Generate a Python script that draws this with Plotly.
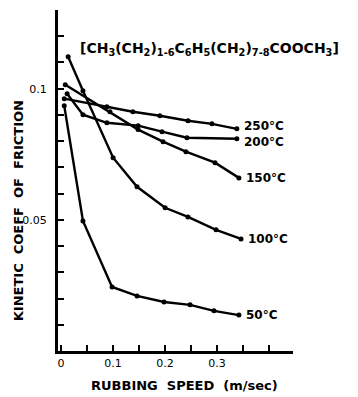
import plotly.graph_objects as go

# Data
series_names = ["250°C", "200°C", "150°C", "100°C", "50°C"]

speed_250 = [0.006, 0.088, 0.138, 0.19, 0.244, 0.29, 0.338]
coef_250 = [0.0962, 0.0931, 0.0912, 0.0897, 0.0878, 0.0866, 0.0847]

speed_200 = [0.0115, 0.042, 0.088, 0.148, 0.194, 0.242, 0.338]
coef_200 = [0.0981, 0.0901, 0.0870, 0.0859, 0.0836, 0.0813, 0.0809]

speed_150 = [0.008, 0.094, 0.148, 0.196, 0.240, 0.296, 0.342]
coef_150 = [0.1015, 0.0912, 0.0844, 0.0798, 0.0760, 0.0718, 0.0660]

speed_100 = [0.0135, 0.042, 0.10, 0.146, 0.20, 0.244, 0.298, 0.346]
coef_100 = [0.1122, 0.0992, 0.0737, 0.0626, 0.0546, 0.0511, 0.0462, 0.0427]

speed_50 = [0.006, 0.042, 0.098, 0.146, 0.198, 0.248, 0.294, 0.342]
coef_50 = [0.0935, 0.0496, 0.0244, 0.0210, 0.0187, 0.0176, 0.0153, 0.0137]

x_tickvals = [0, 0.05, 0.1, 0.15, 0.2, 0.25, 0.3, 0.35, 0.4]
x_ticktext = ["0", "", "0.1", "", "0.2", "", "0.3", "", ""]
y_tickvals = [0.01 * i for i in range(13)]
y_ticktext = ["" for _ in range(13)]
y_ticktext[5] = "0.05"
y_ticktext[10] = "0.1"

title_text = "[CH<sub>3</sub>(CH<sub>2</sub>)<sub>1-6</sub>C<sub>6</sub>H<sub>5</sub>(CH<sub>2</sub>)<sub>7-8</sub>COOCH<sub>3</sub>]"
x_title = "RUBBING  SPEED  (m/sec)"
y_title = "KINETIC  COEFF  OF  FRICTION"

all_speeds = [speed_250, speed_200, speed_150, speed_100, speed_50]
all_coefs = [coef_250, coef_200, coef_150, coef_100, coef_50]
label_yshift = [3, -3, 0, 0, 0]

FONT = "DejaVu Sans"
fig = go.Figure()
for name, xs, ys, ysh in zip(series_names, all_speeds, all_coefs, label_yshift):
    fig.add_trace(go.Scatter(
        x=xs, y=ys, mode="lines+markers", name=name,
        line=dict(color="black", width=2.4),
        marker=dict(color="black", size=5),
        cliponaxis=False, showlegend=False,
    ))
    fig.add_annotation(
        x=xs[-1], y=ys[-1], text="<b>" + name + "</b>", showarrow=False,
        xanchor="left", yanchor="middle", xshift=5, yshift=ysh,
        font=dict(family=FONT, size=12, color="black"),
    )

fig.add_annotation(
    x=0.033, y=0.115, text="<b>" + title_text + "</b>", showarrow=False,
    xanchor="left", yanchor="middle",
    font=dict(family=FONT, size=14, color="black"),
)
fig.add_annotation(
    xref="paper", yref="paper", x=0.54, y=-0.1, text="<b>" + x_title + "</b>",
    showarrow=False, xanchor="center", yanchor="middle",
    font=dict(family=FONT, size=13, color="black"),
)
fig.add_annotation(
    xref="paper", yref="paper", x=-0.17, y=0.41, text="<b>" + y_title + "</b>",
    showarrow=False, textangle=-90, xanchor="center", yanchor="middle",
    font=dict(family=FONT, size=13, color="black"),
)

# page body adds an 8 px margin, so the figure is sized/offset to compensate
fig.update_layout(
    width=350, height=389,
    margin=dict(l=50, r=65, t=2, b=46),
    paper_bgcolor="white", plot_bgcolor="white",
    font=dict(family=FONT, color="black"),
)
fig.update_xaxes(
    range=[-0.006, 0.446], showgrid=False, zeroline=False,
    showline=True, linecolor="black", linewidth=3,
    tickvals=x_tickvals, ticktext=x_ticktext,
    ticks="inside", ticklen=6, tickwidth=2, tickcolor="black",
    tickfont=dict(family=FONT, size=11, color="black"),
)
fig.update_yaxes(
    range=[0, 0.130], showgrid=False, zeroline=False,
    showline=True, linecolor="black", linewidth=3,
    tickvals=y_tickvals, ticktext=y_ticktext,
    ticks="inside", ticklen=6, tickwidth=2, tickcolor="black",
    ticklabelstandoff=6,
    tickfont=dict(family=FONT, size=11, color="black"),
)

fig.write_html("out.html")
